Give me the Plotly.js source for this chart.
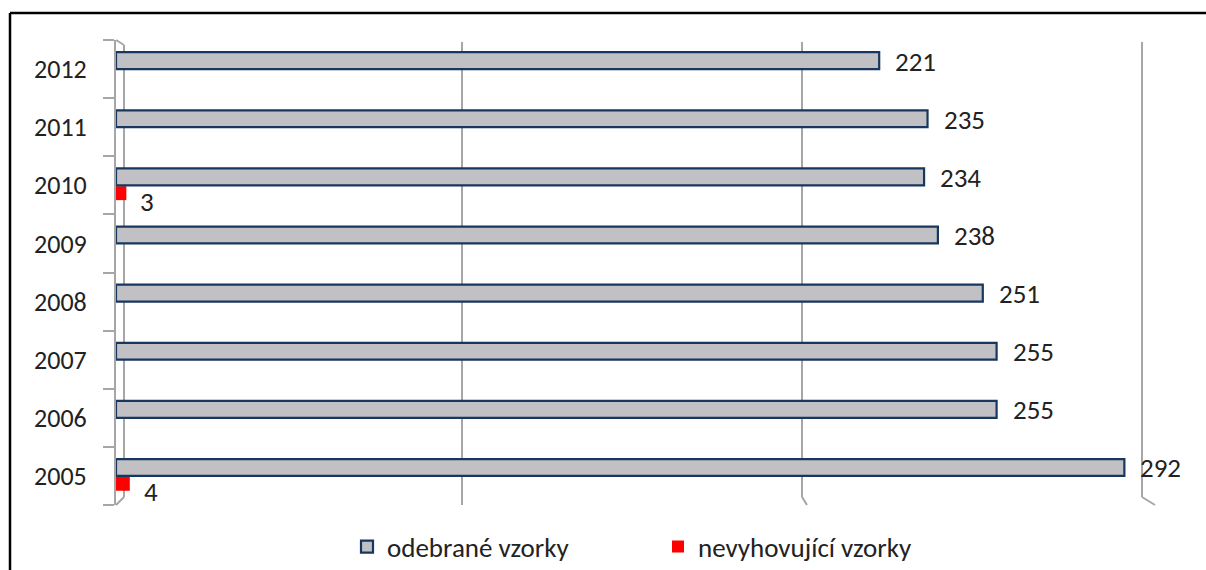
<!DOCTYPE html>
<html>
<head>
<meta charset="utf-8">
<script src="https://cdn.plot.ly/plotly-3.0.1.min.js"></script>
<style>html,body{margin:0;padding:0;background:#fff;overflow:hidden;}#chart{width:1206px;height:570px;}</style>
</head>
<body>
<div id="chart"></div>
<script>
// ---- data ----
const years = ['2005','2006','2007','2008','2009','2010','2011','2012'];
const odebraneVzorky = [292, 255, 255, 251, 238, 234, 235, 221];
const nevyhovujiciVzorky = [4, null, null, null, null, 3, null, null];
const seriesNames = ['odebrané vzorky', 'nevyhovující vzorky'];

// ---- layout geometry (pixels) ----
const W = 1206, Hh = 570;
const mL = 116, mR = 54, mT = 40, mB = 65;
const pw = W - mL - mR, ph = Hh - mT - mB;
const px = p => (p - mL) / pw;
const py = p => (mT + ph - p) / ph;

const FONT = 'Carlito, Calibri, "Open Sans", sans-serif';
const txtColor = '#222222';
const gridCol = '#a6a6a6';

const traces = [
  {
    type: 'bar', orientation: 'h',
    name: seriesNames[1],
    y: years, x: nevyhovujiciVzorky,
    offset: -0.255, width: 0.24,
    marker: {color: '#ff0000', line: {width: 0}},
    legendrank: 2
  },
  {
    type: 'bar', orientation: 'h',
    name: seriesNames[0],
    y: years, x: odebraneVzorky,
    offset: 0, width: 0.29,
    marker: {color: '#c0c0c5', line: {color: '#17375e', width: 2.2}},
    legendrank: 1
  }
];

// value labels built from data (category index used for y)
const annotations = [];
years.forEach((yr, i) => {
  annotations.push({
    x: odebraneVzorky[i], y: i, xref: 'x', yref: 'y',
    text: String(odebraneVzorky[i]), showarrow: false,
    xanchor: 'left', yanchor: 'middle', xshift: 14, yshift: 8,
    font: {family: FONT, size: 27, color: txtColor}
  });
  if (nevyhovujiciVzorky[i] != null) {
    annotations.push({
      x: nevyhovujiciVzorky[i], y: i, xref: 'x', yref: 'y',
      text: String(nevyhovujiciVzorky[i]), showarrow: false,
      xanchor: 'left', yanchor: 'middle', xshift: 12, yshift: -16,
      font: {family: FONT, size: 27, color: txtColor}
    });
  }
});

// decorative 3D wall / grid lines
const shapes = [];
function seg(x0, y0, x1, y1, color, w, layer) {
  shapes.push({type: 'line', xref: 'paper', yref: 'paper', layer: layer || 'below',
    x0: px(x0), y0: py(y0), x1: px(x1), y1: py(y1),
    line: {color: color, width: w}});
}
seg(116, 40, 124, 45, gridCol, 2);
seg(124, 45, 124, 497, gridCol, 2);
seg(124, 497, 116, 505, gridCol, 2);
[[462, 0], [802, 5], [1142, 13]].forEach(([gx, foot]) => {
  seg(gx, 42, gx, 497, gridCol, 2);
  seg(gx, 497, gx + foot, 505, gridCol, 2);
});
// outer frame (top and left edges visible in the picture)
seg(10, 13, 1400, 13, '#000000', 2.5, 'above');
seg(10, 13, 10, 700, '#000000', 2.5, 'above');

const layout = {
  width: W, height: Hh,
  margin: {l: mL, r: mR, t: mT, b: mB, pad: 0, autoexpand: false},
  paper_bgcolor: '#ffffff', plot_bgcolor: 'rgba(0,0,0,0)',
  barmode: 'overlay',
  font: {family: FONT, color: txtColor},
  showlegend: true,
  legend: {
    orientation: 'h', xanchor: 'left', yanchor: 'middle',
    x: px(347), y: py(547),
    font: {family: FONT, size: 27, color: txtColor},
    entrywidthmode: 'pixels', entrywidth: 266,
    bgcolor: 'rgba(0,0,0,0)', borderwidth: 0
  },
  xaxis: {
    range: [0, 300], showgrid: false, zeroline: false,
    showticklabels: false, ticks: '', showline: false, fixedrange: true
  },
  yaxis: {
    type: 'category', categoryorder: 'array', categoryarray: years,
    range: [-0.5, 7.5],
    showline: true, linecolor: gridCol, linewidth: 2,
    ticks: 'outside', tickson: 'boundaries', ticklen: 11,
    tickcolor: gridCol, tickwidth: 2,
    ticklabelstandoff: 22,
    showgrid: false, zeroline: false,
    tickfont: {family: FONT, size: 26, color: txtColor},
    fixedrange: true
  },
  annotations: annotations,
  shapes: shapes
};

Plotly.newPlot('chart', traces, layout, {displayModeBar: false, staticPlot: true});
</script>
</body>
</html>
